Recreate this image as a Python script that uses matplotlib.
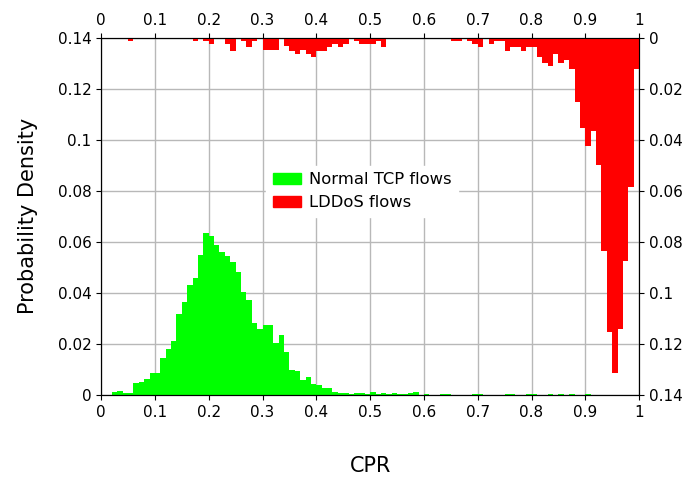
import numpy as np
import matplotlib
matplotlib.use("Agg")
import matplotlib.pyplot as plt
from matplotlib.ticker import FormatStrFormatter
from matplotlib.patches import Patch

# bin starts (width 0.01) and densities
bin_start = np.round(np.arange(0, 1, 0.01), 2)

normal = [
    0, 0, 0.0012, 0.0015, 0.0007, 0.0007, 0.0046, 0.0052, 0.0064, 0.0087,
    0.0087, 0.0146, 0.018, 0.0212, 0.0316, 0.0365, 0.0431, 0.0457, 0.0549, 0.0635,
    0.0624, 0.0589, 0.0559, 0.0546, 0.0519, 0.0482, 0.0403, 0.037, 0.0282, 0.0258,
    0.0272, 0.0272, 0.0205, 0.0235, 0.0169, 0.0099, 0.0094, 0.0059, 0.007, 0.0044,
    0.0038, 0.0026, 0.0026, 0.0012, 0.0007, 0.0007, 0.0003, 0.0006, 0.0006, 0.0003,
    0.0012, 0.0003, 0.0006, 0.0003, 0.0006, 0.0003, 0.0003, 0.0006, 0.0012, 0,
    0.0003, 0, 0, 0.0004, 0.0004, 0, 0, 0, 0, 0.0005,
    0.0004, 0, 0, 0, 0, 0.0004, 0.0004, 0, 0, 0.0003,
    0.0003, 0, 0, 0.0003, 0, 0.0003, 0, 0.0003, 0, 0,
    0.0003, 0, 0, 0, 0, 0, 0, 0, 0, 0,
]

lddos = [
    0, 0, 0, 0, 0, 0.0012, 0, 0, 0, 0,
    0, 0, 0, 0, 0, 0, 0, 0.0012, 0, 0.0012,
    0.0026, 0, 0, 0.0026, 0.005, 0, 0.0012, 0.0037, 0.0012, 0,
    0.0047, 0.0047, 0.0047, 0, 0.0031, 0.005, 0.0063, 0.0047, 0.0063, 0.0076,
    0.005, 0.005, 0.0037, 0.0026, 0.0037, 0.0026, 0, 0.0012, 0.0026, 0.0026,
    0.0026, 0.0012, 0.0037, 0, 0, 0, 0, 0, 0, 0,
    0, 0, 0, 0, 0, 0.0012, 0.0012, 0, 0.0012, 0.0026,
    0.0037, 0, 0.0026, 0.0012, 0.0012, 0.005, 0.0037, 0.0037, 0.005, 0.0037,
    0.0037, 0.0076, 0.0099, 0.0112, 0.0063, 0.0099, 0.0089, 0.0123, 0.025, 0.0354,
    0.0424, 0.0367, 0.05, 0.0838, 0.1152, 0.1315, 0.1141, 0.0877, 0.0587, 0.0123,
]

fig = plt.figure(figsize=(6.88, 4.78), dpi=100)
rect = [0.147, 0.174, 0.782, 0.747]

ax = fig.add_axes(rect)
ax.bar(bin_start, normal, width=0.01, align='edge', color='#00ff00', linewidth=0)
ax.set_xlim(0, 1)
ax.set_ylim(0, 0.14)
ax.set_xticks(np.arange(0, 1.01, 0.1))
ax.set_yticks(np.arange(0, 0.141, 0.02))
ax.xaxis.set_major_formatter(FormatStrFormatter('%g'))
ax.yaxis.set_major_formatter(FormatStrFormatter('%g'))
ax.grid(True, color='#b8b8b8', linewidth=1)
ax.set_axisbelow(True)
ax.tick_params(labelsize=11)
ax.set_xlabel("CPR", fontsize=15, labelpad=26)
ax.set_ylabel("Probability Density", fontsize=15, labelpad=14)

# second axes: top x axis and inverted right y axis for the LDDoS bars
ax2 = fig.add_axes(rect, facecolor='none')
ax2.bar(bin_start, lddos, width=0.01, align='edge', color='#ff0000', linewidth=0)
ax2.set_xlim(0, 1)
ax2.set_ylim(0.14, 0)
ax2.set_xticks(np.arange(0, 1.01, 0.1))
ax2.set_yticks(np.arange(0, 0.141, 0.02))
ax2.xaxis.set_major_formatter(FormatStrFormatter('%g'))
ax2.yaxis.set_major_formatter(FormatStrFormatter('%g'))
ax2.xaxis.tick_top()
ax2.yaxis.tick_right()
ax2.tick_params(labelsize=11)

handles = [Patch(color='#00ff00', label='Normal TCP flows'),
           Patch(color='#ff0000', label='LDDoS flows')]
leg = ax2.legend(handles=handles, loc='center', bbox_to_anchor=(0.485, 0.57),
                 fontsize=11.8, frameon=True, fancybox=False,
                 handlelength=1.75, handleheight=0.65, handletextpad=0.45,
                 borderaxespad=0)
leg.get_frame().set_facecolor('white')
leg.get_frame().set_edgecolor('white')
leg.get_frame().set_alpha(1)

fig.savefig("out.png", dpi=100)
